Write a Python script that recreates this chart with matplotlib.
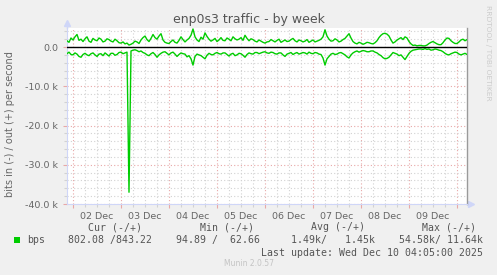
import numpy as np
import matplotlib
matplotlib.use('Agg')
import matplotlib.pyplot as plt
from matplotlib.patches import Rectangle

# ---------------- data ----------------
# time axis: hours relative to 2025-12-02 00:00, one sample per hour starting at -4 h
t_first = -4
t_step = 1
# outgoing traffic (kbit/s), plotted as positive values
out_kbps = [1.1, 1.6, 1.2, 2.3, 1.8, 2.6, 3.2, 1.7, 2.0, 1.4, 2.1, 2.6, 1.5, 1.2, 2.2, 1.8, 1.6, 2.3, 2.0, 1.3,
            1.5, 2.1, 1.9, 1.5, 1.3, 2.0, 1.6, 1.1, 1.0, 1.3, 0.8, 1.0, 0.5, 0.7, 1.0, 1.5, 1.3, 0.9, 1.8, 2.4,
            2.8, 1.9, 1.4, 2.2, 3.2, 2.4, 2.0, 2.8, 3.4, 1.8, 1.2, 1.0, 0.9, 1.4, 1.8, 1.2, 1.0, 1.7, 2.6, 1.9,
            1.3, 1.8, 2.2, 3.0, 4.6, 2.6, 1.8, 1.4, 2.5, 2.0, 3.6, 2.7, 2.0, 1.5, 1.8, 2.2, 1.4, 1.8, 2.4, 1.7,
            1.6, 2.3, 2.0, 1.6, 2.6, 2.1, 1.8, 2.0, 2.4, 1.7, 3.0, 2.2, 1.6, 2.1, 1.9, 1.5, 1.3, 1.8, 1.5, 1.2,
            1.0, 1.3, 1.4, 1.9, 1.6, 1.3, 1.7, 2.0, 1.2, 1.5, 1.8, 1.4, 1.5, 1.9, 2.2, 1.6, 1.3, 1.8, 1.6, 1.3,
            1.5, 1.9, 1.2, 1.5, 1.8, 1.3, 1.5, 1.7, 2.0, 2.6, 4.4, 2.8, 2.0, 1.5, 1.6, 2.1, 1.8, 1.3, 1.5, 1.9,
            2.2, 2.8, 3.4, 2.3, 1.4, 1.0, 0.8, 1.2, 1.0, 0.7, 0.9, 1.2, 1.1, 0.9, 0.8, 1.1, 1.6, 2.4, 3.0, 3.4,
            3.5, 3.3, 2.8, 1.8, 1.0, 1.3, 1.8, 2.1, 2.4, 1.9, 2.6, 2.3, 1.4, 0.8, 0.4, 0.5, 0.3, 0.4, 0.4, 0.3,
            0.3, 0.5, 0.9, 1.2, 1.4, 1.1, 0.8, 0.6, 0.6, 1.1, 1.8, 2.3, 2.2, 1.6, 1.2, 0.9, 0.9, 1.3, 1.8, 2.0,
            1.6, 1.9, 1.5]
# incoming traffic (kbit/s), plotted as negative values
in_kbps = [1.2, 1.7, 1.3, 1.9, 2.0, 1.5, 1.8, 2.4, 2.6, 1.9, 1.6, 2.0, 2.2, 1.7, 1.5, 2.0, 2.4, 1.8, 1.7, 2.2,
           1.5, 1.9, 2.3, 1.6, 1.6, 2.1, 1.9, 1.4, 1.3, 1.7, 1.5, 1.3, 37.0, 1.0, 0.8, 0.7, 0.9, 1.2, 1.0, 1.4,
           1.6, 2.0, 2.2, 1.7, 1.4, 1.9, 2.6, 2.0, 1.6, 1.3, 1.2, 1.6, 2.0, 1.5, 1.3, 1.8, 2.4, 1.9, 1.5, 1.7,
           1.8, 2.5, 2.2, 3.0, 4.6, 2.4, 1.8, 2.0, 2.2, 2.6, 3.0, 2.1, 1.6, 1.9, 2.0, 1.6, 1.4, 1.7, 1.8, 1.5,
           1.5, 1.9, 2.3, 1.8, 1.6, 2.2, 2.0, 1.6, 1.7, 2.1, 2.6, 1.9, 1.5, 1.7, 1.8, 1.4, 1.4, 1.7, 1.5, 1.3,
           1.2, 1.5, 1.6, 1.3, 1.4, 1.7, 1.8, 1.5, 1.5, 2.0, 2.4, 1.8, 1.6, 1.4, 1.9, 1.6, 1.4, 1.8, 1.6, 1.4,
           1.5, 1.8, 1.3, 1.6, 1.7, 1.4, 1.5, 1.8, 1.9, 2.8, 4.6, 3.0, 2.4, 1.8, 1.6, 1.9, 1.8, 1.5, 1.4, 1.7,
           2.0, 2.5, 2.8, 2.0, 1.5, 1.2, 1.0, 1.3, 1.1, 0.9, 1.0, 1.2, 1.2, 1.0, 1.0, 1.3, 1.5, 1.9, 2.2, 2.7,
           3.0, 2.9, 2.6, 2.0, 1.4, 1.6, 1.8, 2.2, 2.0, 2.6, 3.2, 2.4, 1.6, 1.1, 0.8, 0.7, 0.6, 0.5, 0.5, 0.6,
           0.4, 0.6, 0.5, 0.8, 0.7, 0.5, 0.6, 0.8, 0.9, 1.2, 1.6, 1.9, 2.0, 1.7, 1.5, 1.3, 1.4, 1.8, 2.0, 1.8,
           1.6, 1.9, 1.5]

day_labels = ['02 Dec', '03 Dec', '04 Dec', '05 Dec', '06 Dec', '07 Dec', '08 Dec', '09 Dec']
ytick_vals = [0, -10000, -20000, -30000, -40000]
ytick_labels = ['0.0', '-10.0 k', '-20.0 k', '-30.0 k', '-40.0 k']

legend_name = 'bps'
legend_headers = ['Cur (-/+)', 'Min (-/+)', 'Avg (-/+)', 'Max (-/+)']
legend_values = ['802.08 /843.22', '94.89 /  62.66', '1.49k/   1.45k', '54.58k/ 11.64k']
last_update = 'Last update: Wed Dec 10 04:05:00 2025'
title = 'enp0s3 traffic - by week'
ylabel = 'bits in (-) / out (+) per second'

# ---------------- figure ----------------
W, H = 497, 275
BG = '#F0F0F0'
FONT = '#666666'
GREEN = '#00CC00'
AXISC = '#CFD6F8'
MAJ = '#E8A8A8'
MIN = '#D2D2D2'

fig = plt.figure(figsize=(W / 100, H / 100), dpi=100, facecolor=BG)
L, R, T, B = 67, 467, 28, 204
ax = fig.add_axes([L / W, 1 - B / H, (R - L) / W, (B - T) / H], facecolor='white')

t = t_first + t_step * np.arange(len(out_kbps))
out_v = np.array(out_kbps) * 1000
in_v = np.array(in_kbps) * 1000

ax.set_xlim(-3, 197)
ax.set_ylim(-40000, 4850)

# grid
midnights = list(range(0, 24 * len(day_labels) + 1, 24))
sixes = [h for h in range(6, 196, 6) if h % 24]
noons = [12 + 24 * i for i in range(len(day_labels))]
ax.set_xticks(midnights, [''] * len(midnights))
ax.set_xticks(sixes, minor=True)
ax.set_yticks(ytick_vals, ytick_labels)
ax.set_yticks([v for v in range(-38000, 4001, 2000) if v % 10000], minor=True)
ax.grid(which='minor', color=MIN, ls=(0, (1, 2)), lw=0.8, zorder=0)
ax.grid(which='major', color=MAJ, ls=(0, (1, 2)), lw=0.8, zorder=0)
ax.set_axisbelow(True)
ax.tick_params(which='major', length=3, color=MAJ, width=0.8, labelsize=6.8,
               labelcolor=FONT, pad=3.5)
ax.tick_params(which='minor', length=2, color=MIN, width=0.8)

sec = ax.secondary_xaxis('bottom')
sec.set_xticks(noons, day_labels)
sec.tick_params(length=0, labelsize=6.8, labelcolor=FONT, pad=5.5)
sec.spines['bottom'].set_visible(False)

# data
ax.plot(t, out_v, color=GREEN, lw=1.0, zorder=3)
ax.plot(t, -in_v, color=GREEN, lw=1.0, zorder=3)
ax.axhline(0, color='black', lw=1.0, zorder=4)

# spines / arrows
ax.spines['top'].set_visible(False)
ax.spines['right'].set_color('#9A9A9A')
ax.spines['right'].set_linewidth(1.0)
ax.spines['left'].set_color(AXISC)
ax.spines['bottom'].set_color(AXISC)
ax.plot([0, 0], [1, 1.025], transform=ax.transAxes, color=AXISC, lw=1, clip_on=False)
ax.plot([1, 1.008], [0, 0], transform=ax.transAxes, color=AXISC, lw=1, clip_on=False)
ax.plot([0], [1.03], marker='^', ms=4.5, color=AXISC, transform=ax.transAxes, clip_on=False)
ax.plot([1.01], [0], marker='>', ms=4.5, color=AXISC, transform=ax.transAxes, clip_on=False)

# texts
def fx(x):
    return x / W

def fy(y):
    return 1 - y / H

fig.text(fx(248.5), fy(19.5), title, ha='center', va='center', fontsize=9, color='#555555')
fig.text(fx(10), fy(124), ylabel, rotation=90, ha='center', va='center', fontsize=7, color=FONT)
fig.text(fx(488), fy(53), 'RRDTOOL / TOBI OETIKER', rotation=270, ha='center', va='center',
         fontsize=5.4, color='#CCCCCC')

mono = 'DejaVu Sans Mono'
ms = 7.15
hdr_right = [142, 254, 365, 476]
val_right = [152, 260, 375, 483]
for s, x in zip(legend_headers, hdr_right):
    fig.text(fx(x), fy(227), s, ha='right', va='center', family=mono, fontsize=ms, color='#555555')
fig.patches.append(Rectangle((fx(14), fy(243)), 6 / W, 6 / H, transform=fig.transFigure,
                             facecolor=GREEN, edgecolor='none'))
fig.text(fx(27), fy(240), legend_name, ha='left', va='center', family=mono, fontsize=ms, color='#555555')
for s, x in zip(legend_values, val_right):
    fig.text(fx(x), fy(240), s, ha='right', va='center', family=mono, fontsize=ms, color='#555555')
fig.text(fx(483), fy(252.5), last_update, ha='right', va='center', family=mono, fontsize=ms, color='#555555')
fig.text(fx(248.5), fy(264), 'Munin 2.0.57', ha='center', va='center', fontsize=5.5, color='#C4C4C4')

fig.savefig('out.png', dpi=100, facecolor=BG)
